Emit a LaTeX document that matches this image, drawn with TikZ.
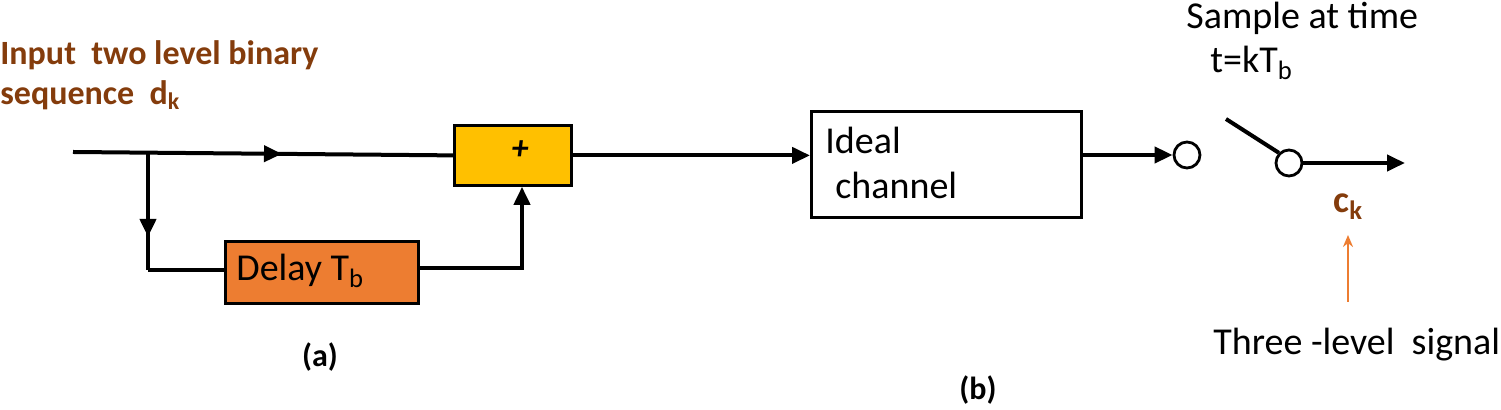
\documentclass[tikz,border=0pt]{standalone}
\usepackage{fontspec}
\setmainfont{Carlito}
\usetikzlibrary{arrows.meta,decorations.markings}
\definecolor{brn}{HTML}{843C0C}
\definecolor{org}{HTML}{ED7D31}
\definecolor{yel}{HTML}{FFC000}
\begin{document}
\begin{tikzpicture}[x=0.5pt,y=-0.5pt,
  line/.style={line width=2pt},
  arr/.style={line, -{Triangle[length=9pt,width=8pt]}},
  blk/.style={draw,line width=1.4pt,anchor=north west,inner sep=0pt},
  midarr/.style={postaction={decorate},decoration={markings,mark=at position #1 with {\arrow{Triangle[length=9pt,width=8pt]}}}},
  txt/.style={font=\fontsize{19pt}{22pt}\selectfont,inner sep=0pt},
  btxt/.style={font=\bfseries\fontsize{17pt}{20pt}\selectfont,inner sep=0pt,text=brn}]
\useasboundingbox (0,0) rectangle (1501,410);
\node[blk,fill=yel,minimum width=58.5pt,minimum height=30pt] (add) at (453,124) {};
\node[font=\bfseries\itshape\fontsize{17pt}{19pt}\selectfont] at (520,150) {+};
\node[blk,fill=org,minimum width=96.5pt,minimum height=31pt] (del) at (224,240) {};
\node[txt,anchor=west] at (236,271) {Delay T\textsubscript{b}};
\node[blk,fill=white,minimum width=135pt,minimum height=53pt] (ch) at (810,110) {};
\node[txt,anchor=west] at (825,140) {Ideal};
\node[txt,anchor=west] at (835,185) {channel};
\coordinate (in) at (73,152);
\coordinate (br) at (148,152);
\coordinate (bl) at (148,270);
\coordinate (br2) at (522,268);
\draw[line,midarr=0.55] (in) -- (add.west);
\draw[line,midarr=0.72] (br) -- (bl);
\draw[line] (bl) -- (del.west |- bl);
\draw[arr] (del.east |- br2) -- (br2) -- (add.south -| br2);
\draw[arr] (add.east) -- (ch.west |- add.east);
\node[draw,circle,line width=1.4pt,minimum size=13pt,inner sep=0pt] (c1) at (1187,155) {};
\node[draw,circle,line width=1.4pt,minimum size=13pt,inner sep=0pt] (c2) at (1289,163) {};
\draw[arr] (ch.east |- c1) -- (c1.west);
\coordinate (lev) at (1226,119);
\draw[line] (lev) -- (c2.north west);
\coordinate (out) at (1405,163);
\draw[arr] (c2.east) -- (out);
\node[btxt,anchor=west,font=\bfseries\fontsize{19pt}{21pt}\selectfont] (ck) at (1333,207) {c\textsubscript{k}};
\coordinate (sig) at (1348,302);
\draw[draw=org,line width=1pt,-{Stealth[length=6pt,width=5pt]}] (sig) -- (1348,235);
\node[txt,anchor=west] at (1213,345) {Three -level\ \ signal};
\node[txt,anchor=west] at (1186,18) {Sample at time};
\node[txt,anchor=west] at (1210,63) {t=kT\textsubscript{b}};
\node[btxt,anchor=west] at (0,55) {Input\ \ two level binary};
\node[btxt,anchor=west] at (0,95) {sequence\ \ d\textsubscript{k}};
\node[font=\bfseries\fontsize{16pt}{18pt}\selectfont] at (320,357) {(a)};
\node[font=\bfseries\fontsize{16pt}{18pt}\selectfont] at (978,390) {(b)};
\end{tikzpicture}
\end{document}
